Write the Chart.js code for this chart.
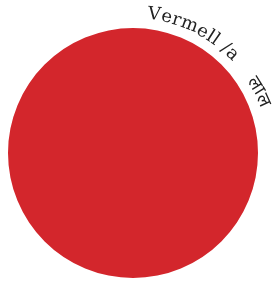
<!DOCTYPE html>
<html>
<head>
<meta charset="utf-8">
<script src="https://cdn.jsdelivr.net/npm/chart.js@4.4.0/dist/chart.umd.min.js"></script>
<style>
  html, body { margin: 0; padding: 0; background: #ffffff; }
  #wrap { width: 277px; height: 283px; }
</style>
</head>
<body>
<div id="wrap"><canvas id="chartPie"></canvas></div>
<script>
var categorias = ['Vermell /a    लाल'];
var valores = [1];
var cores = ['#d3262c'];

var ctxPie = document.getElementById('chartPie');

// separa o texto em grafemas (para não quebrar as matras do devanágari)
function grafemas(txt) {
    if (window.Intl && Intl.Segmenter) {
        var seg = new Intl.Segmenter(undefined, { granularity: 'grapheme' });
        return Array.from(seg.segment(txt), function (s) { return s.segment; });
    }
    return Array.from(txt);
}

// rótulo curvo ao longo do arco
var arcLabel = {
    id: 'arcLabel',
    afterDraw: function (chart) {
        var arc = chart.getDatasetMeta(0).data[0];
        if (!arc) return;
        var ctx = chart.ctx;
        var text = chart.data.labels[0];
        var r = arc.outerRadius + 10;
        var ang = -Math.PI / 2 + 0.105; // começa um pouco à direita do topo
        ctx.save();
        ctx.font = '18px "DejaVu Serif", serif';
        ctx.fillStyle = '#222222';
        ctx.textBaseline = 'alphabetic';
        ctx.textAlign = 'left';
        var chars = grafemas(text);
        for (var i = 0; i < chars.length; i++) {
            var w = ctx.measureText(chars[i]).width + 0.4;
            ctx.save();
            ctx.translate(arc.x + r * Math.cos(ang), arc.y + r * Math.sin(ang));
            ctx.rotate(ang + Math.PI / 2);
            ctx.fillText(chars[i], 0, 0);
            ctx.restore();
            ang += w / r;
        }
        ctx.restore();
    }
};

new Chart(ctxPie, {
    type: 'pie',
    data: {
        labels: categorias,
        datasets: [{
            data: valores,
            backgroundColor: cores,
            borderWidth: 0
        }]
    },
    options: {
        responsive: true,
        maintainAspectRatio: false,
        animation: false,
        layout: {
            padding: { left: 8, right: 19, top: 28, bottom: 5 }
        },
        plugins: {
            legend: { display: false },
            tooltip: { enabled: false }
        }
    },
    plugins: [arcLabel]
});
</script>
</body>
</html>
